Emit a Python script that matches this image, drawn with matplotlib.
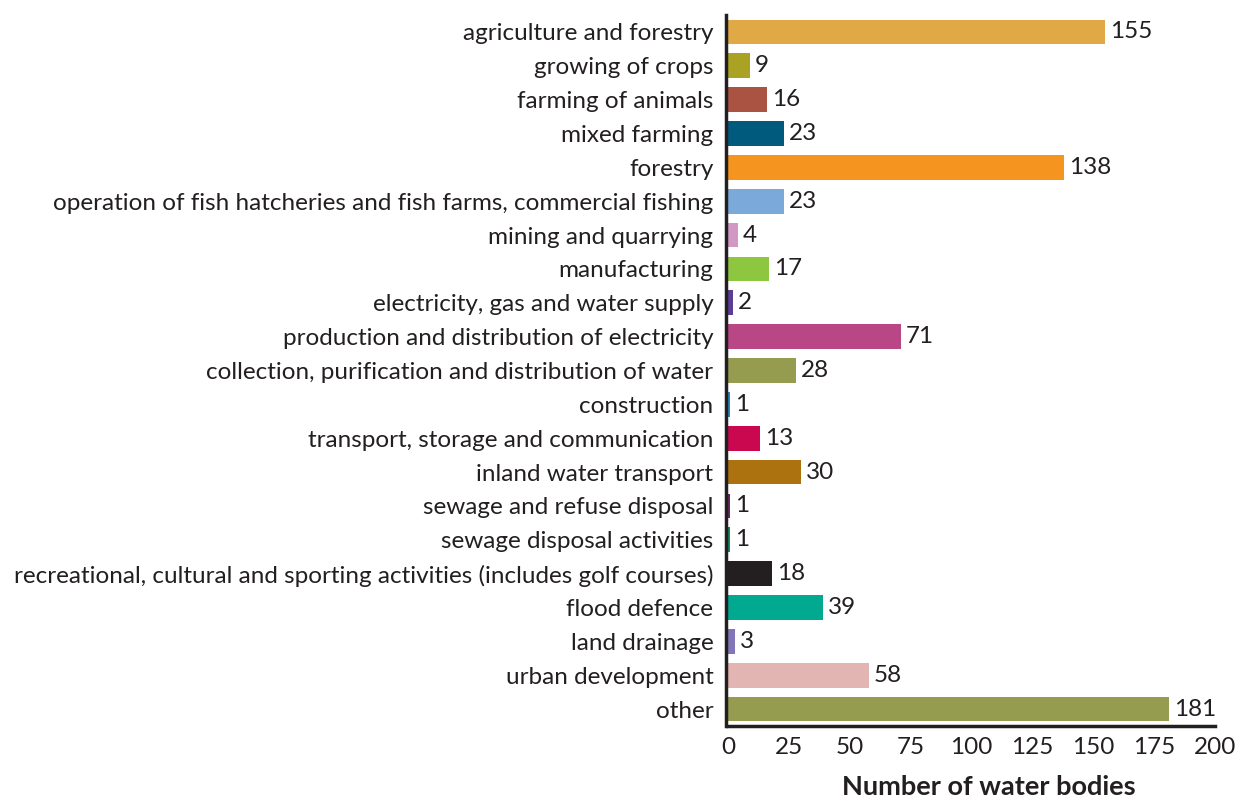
import numpy as np
import matplotlib
matplotlib.use("Agg")
import matplotlib.pyplot as plt

plt.rcParams['font.family'] = ['Lato', 'DejaVu Sans']

categories = [
    "agriculture and forestry",
    "growing of crops",
    "farming of animals",
    "mixed farming",
    "forestry",
    "operation of fish hatcheries and fish farms, commercial fishing",
    "mining and quarrying",
    "manufacturing",
    "electricity, gas and water supply",
    "production and distribution of electricity",
    "collection, purification and distribution of water",
    "construction",
    "transport, storage and communication",
    "inland water transport",
    "sewage and refuse disposal",
    "sewage disposal activities",
    "recreational, cultural and sporting activities (includes golf courses)",
    "flood defence",
    "land drainage",
    "urban development",
    "other",
]
values = [155, 9, 16, 23, 138, 23, 4, 17, 2, 71, 28, 1, 13, 30, 1, 1, 18, 39, 3, 58, 181]
colors = [
    "#E0A945", "#AAA223", "#AA5343", "#005A7E", "#F5941E", "#7BA9DA",
    "#D098C2", "#8DC63F", "#5B3D96", "#B94685", "#959B4F", "#1C8BC1",
    "#C9084F", "#AB720F", "#6A2760", "#0C8E5A", "#231F20", "#00A98F",
    "#8275B8", "#E2B4B2", "#959B4F",
]
xticks = [0, 25, 50, 75, 100, 125, 150, 175, 200]

txt = "#231f20"

fig = plt.figure(figsize=(12.52, 8.01), dpi=100)
ax = fig.add_axes([0.5815, 0.0936, 0.389, 0.8876])

# move the axis line a touch left first (this resets tick labels, so do it before styling)
ax.spines['left'].set_position(('outward', 1.5))

y = np.arange(len(categories))
ax.barh(y, values, height=0.73, color=colors)
for yi, v in zip(y, values):
    ax.text(v + 2, yi, str(v), va='center', ha='left', fontsize=17.5, color=txt)

ax.set_ylim(len(categories) - 0.5, -0.5)
ax.set_xlim(0, 200)
ax.set_yticks(y)
ax.set_yticklabels(categories, fontsize=17.5, color=txt)
ax.set_xticks(xticks)
ax.set_xticklabels([str(t) for t in xticks], fontsize=17.5, color=txt)
ax.tick_params(axis='y', length=0, pad=9)
ax.tick_params(axis='x', length=0, pad=8)

for s in ['top', 'right']:
    ax.spines[s].set_visible(False)
for s in ['left', 'bottom']:
    ax.spines[s].set_linewidth(2.5)
    ax.spines[s].set_color(txt)

fig.text(0.79, 0.003, "Number of water bodies", fontsize=19.5, fontweight='bold',
         color=txt, ha='center', va='bottom')

fig.savefig("out.png", dpi=100)
